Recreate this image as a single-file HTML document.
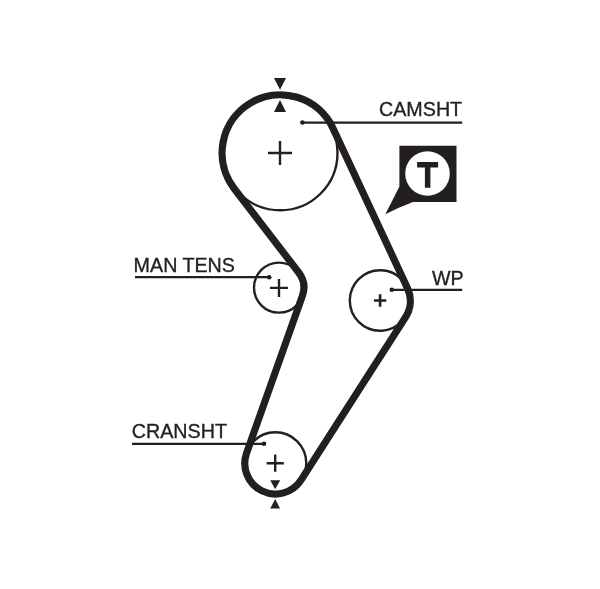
<!DOCTYPE html>
<html><head><meta charset="utf-8"><style>
html,body{margin:0;padding:0;background:#fff;}
svg{display:block;will-change:transform;}
text{font-family:"Liberation Sans",sans-serif;font-size:19.7px;fill:#231f20;stroke:#231f20;stroke-width:0.35px;}
</style></head><body>
<svg width="600" height="589" viewBox="0 0 600 589">
<g fill="none" stroke="#231f20" stroke-width="2.4">
<circle cx="280.2" cy="153" r="57.3"/>
<circle cx="279.0" cy="287.6" r="25"/>
<circle cx="275.3" cy="463.3" r="31"/>
<circle cx="380.1" cy="300.5" r="30.3"/>
</g>
<path d="M234.14 188.44 A58.20 58.20 0 1 1 333.06 128.43 L407.49 288.23 A30.00 30.00 0 0 1 405.55 317.09 L301.16 479.92 A30.60 30.60 0 0 1 246.56 453.17 L302.37 295.89 A24.80 24.80 0 0 0 298.67 272.50 Z" fill="none" stroke="#231f20" stroke-width="7.2"/>
<path d="M268 153H292M280 141V165" stroke="#231f20" stroke-width="2.4" fill="none"/>
<path d="M270 287.9H288M279 278.9V296.9" stroke="#231f20" stroke-width="2.4" fill="none"/>
<path d="M266.59999999999997 463.2H283.8M275.2 454.59999999999997V471.8" stroke="#231f20" stroke-width="2.4" fill="none"/>
<path d="M373.90000000000003 300.5H386.3M380.1 294.3V306.7" stroke="#231f20" stroke-width="2.6" fill="none"/>
<g fill="#231f20">
<path d="M274 78H286L280 89.8Z"/>
<path d="M280 100L286 112H274Z"/>
<path d="M270.2 480.2H280.2L275.2 489.3Z"/>
<path d="M275.2 498.9L280 508.6H270.2Z"/>
</g>
<g stroke="#231f20" stroke-width="2.25" fill="none">
<path d="M302.4 122.5H462.2"/>
<path d="M135 277.2H269.2"/>
<path d="M132 443.8H264"/>
<path d="M391.6 289.9H462.2"/>
</g>
<g fill="#231f20">
<circle cx="302.4" cy="122.5" r="2.3"/>
<circle cx="269.2" cy="277.2" r="2.3"/>
<circle cx="264" cy="443.8" r="2.3"/>
<circle cx="391.8" cy="289.8" r="2.3"/>
</g>
<path d="M399.4 145.7H456.5V201.9H413Q398.7 207.2 385.3 214.2Q392.7 200 399.4 186.6Z" fill="#231f20"/>
<circle cx="427.5" cy="173.5" r="22.3" fill="#fff"/>
<path d="M417.1 162H438.1V167.5H430.4V187.8H424.9V167.5H417.1Z" fill="#231f20"/>
<text x="379" y="116.2">CAMSHT</text>
<text x="133.6" y="272">MAN TENS</text>
<text x="131.8" y="438.3">CRANSHT</text>
<text x="432" y="284.9">WP</text>
</svg>
</body></html>
